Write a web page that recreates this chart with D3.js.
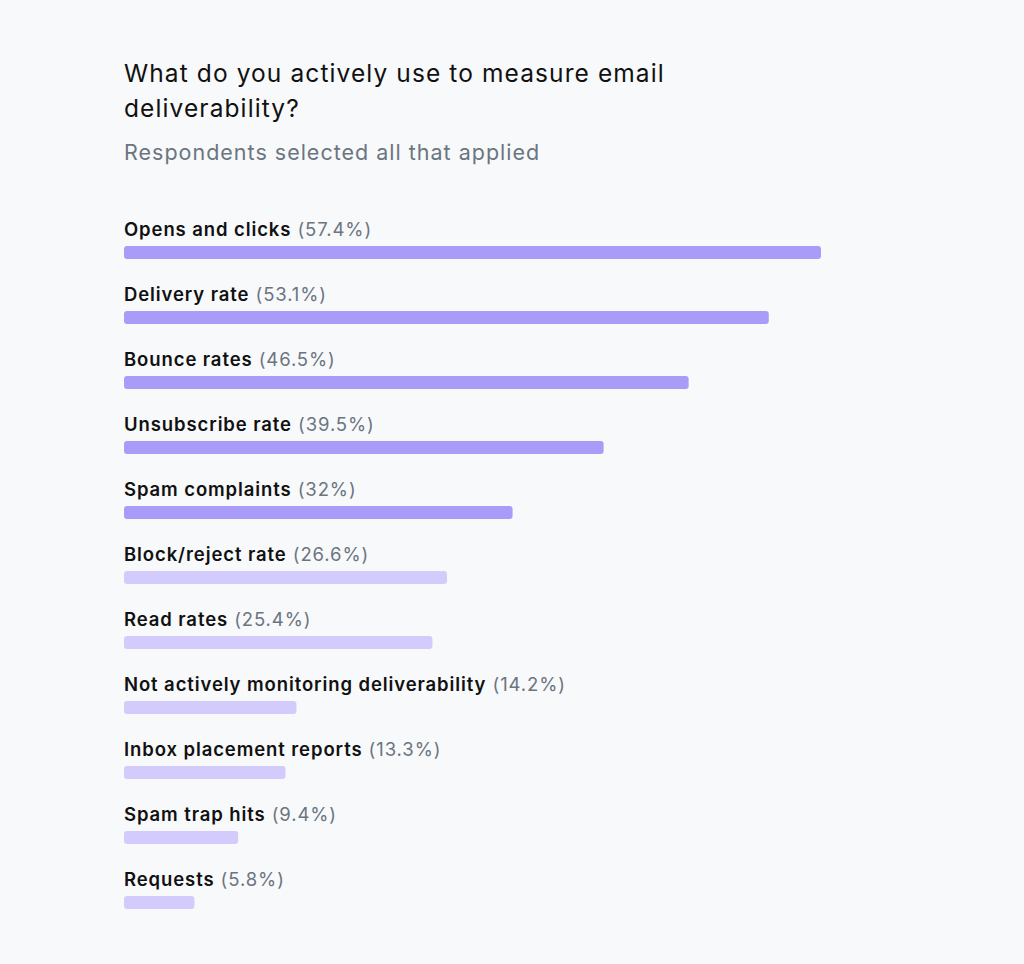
<!DOCTYPE html>
<html>
<head>
<meta charset="utf-8">
<script src="https://cdn.jsdelivr.net/npm/d3@7"></script>
<style>
  body { margin: 0; padding: 0; background: #f8f9fb; }
  svg { display: block; font-family: Inter, "Noto Sans", sans-serif; }
</style>
</head>
<body>
<script>
// chart data
var categories = ["Opens and clicks", "Delivery rate", "Bounce rates", "Unsubscribe rate",
  "Spam complaints", "Block/reject rate", "Read rates", "Not actively monitoring deliverability",
  "Inbox placement reports", "Spam trap hits", "Requests"];
var values = [57.4, 53.1, 46.5, 39.5, 32, 26.6, 25.4, 14.2, 13.3, 9.4, 5.8];
var valueLabels = ["57.4%", "53.1%", "46.5%", "39.5%", "32%", "26.6%", "25.4%", "14.2%", "13.3%", "9.4%", "5.8%"];
var highlighted = [true, true, true, true, true, false, false, false, false, false, false];

var titleLines = ["What do you actively use to measure email", "deliverability?"];
var subtitle = "Respondents selected all that applied";

var W = 1024, H = 964;
var left = 124;

var svg = d3.select("body").append("svg")
  .attr("width", W)
  .attr("height", H);

svg.append("rect").attr("width", W).attr("height", H).attr("fill", "#f8f9fb");

// title
svg.selectAll("text.title").data(titleLines).enter().append("text")
  .attr("class", "title")
  .attr("x", left)
  .attr("y", function (d, i) { return 82 + i * 35; })
  .attr("font-size", 24.5)
  .attr("letter-spacing", 1.1)
  .attr("fill", "#111")
  .text(function (d) { return d; });

svg.append("text")
  .attr("x", left)
  .attr("y", 160)
  .attr("font-size", 21.5)
  .attr("letter-spacing", 1.0)
  .attr("fill", "#6b7580")
  .text(subtitle);

// scales
var x = d3.scaleLinear().domain([0, 57.4]).range([left, 821]);
var y = d3.scaleBand().domain(categories).range([206, 921]).paddingInner(0).paddingOuter(0);
// each band is 65px; label baseline at +30, bar at +40

var row = svg.selectAll("g.row").data(categories).enter().append("g")
  .attr("class", "row")
  .attr("transform", function (d) { return "translate(0," + y(d) + ")"; });

var label = row.append("text")
  .attr("x", left)
  .attr("y", 30)
  .attr("font-size", 18.5)
  .attr("letter-spacing", 0.9);

label.append("tspan")
  .attr("font-weight", 600)
  .attr("fill", "#111")
  .text(function (d) { return d; });

label.append("tspan")
  .attr("font-weight", 400)
  .attr("fill", "#6b7580")
  .text(function (d, i) { return " (" + valueLabels[i] + ")"; });

row.append("rect")
  .attr("x", left)
  .attr("y", 40)
  .attr("height", 13)
  .attr("rx", 3)
  .attr("width", function (d, i) { return x(values[i]) - left; })
  .attr("fill", function (d, i) { return highlighted[i] ? "#a99bf8" : "#d2cbfb"; });
</script>
</body>
</html>
